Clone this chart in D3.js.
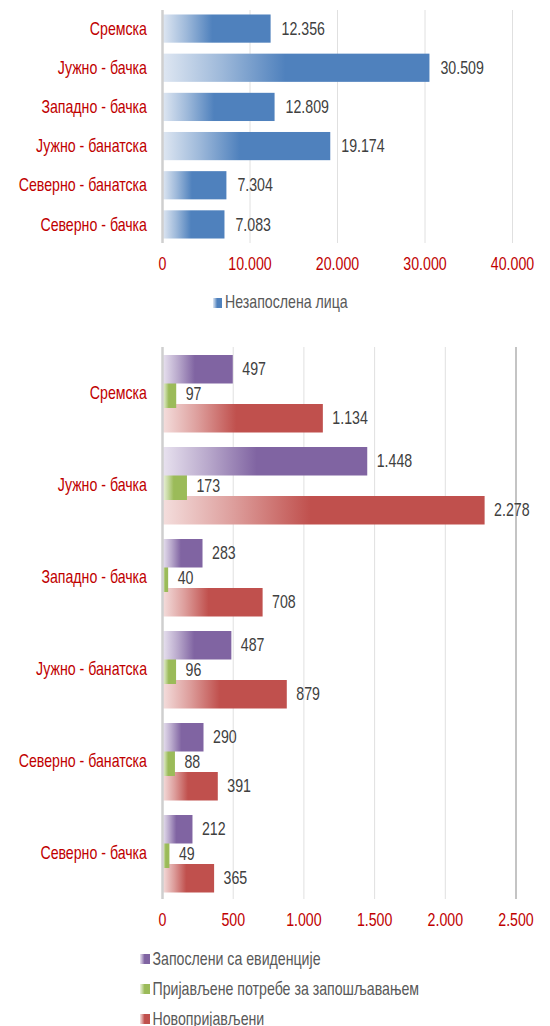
<!DOCTYPE html>
<html>
<head>
<meta charset="utf-8">
<script src="https://cdn.jsdelivr.net/npm/d3@7"></script>
<style>
  body { margin: 0; background: #fff; }
  svg text { font-family: "Liberation Sans Narrow", "Arial Narrow", "Liberation Sans", Arial, sans-serif; }
</style>
</head>
<body>
<div id="chart"></div>
<script>
const regions = ['Сремска', 'Јужно - бачка', 'Западно - бачка', 'Јужно - банатска', 'Северно - банатска', 'Северно - бачка'];
const unemployed = [12356, 30509, 12809, 19174, 7304, 7083];
const employedFromRegistry = [497, 1448, 283, 487, 290, 212];
const reportedNeeds = [97, 173, 40, 96, 88, 49];
const newlyRegistered = [1134, 2278, 708, 879, 391, 365];
const topTicks = [0, 10000, 20000, 30000, 40000];
const bottomTicks = [0, 500, 1000, 1500, 2000, 2500];

const topSeriesName = 'Незапослена лица';
const bottomSeries = [
  { key: 'emp', name: 'Запослени са евиденције', values: employedFromRegistry, color: '#8064A2', light: '#e8e2ef' },
  { key: 'need', name: 'Пријављене потребе за запошљавањем', values: reportedNeeds, color: '#9BBB59', light: '#edf3e0' },
  { key: 'new', name: 'Новопријављени', values: newlyRegistered, color: '#C0504D', light: '#f4dedd' }
];

const fmt = d3.formatLocale({ decimal: ',', thousands: '.', grouping: [3] }).format(',d');
const width = 550, height = 1026;
const catColor = '#C00000';
const labelColor = '#404040';
const fontSize = 17.5;
const squeeze = 0.81; // the original uses a narrow face

const svg = d3.select('#chart').append('svg')
  .attr('width', width)
  .attr('height', height);

// position a text selection and squeeze it horizontally
function place(sel, fx, fy) {
  sel.attr('transform', (d, i) => `translate(${fx(d, i)},${fy(d, i)}) scale(${squeeze},1)`)
    .attr('dy', '0.35em')
    .attr('font-size', fontSize);
  return sel;
}

const defs = svg.append('defs');
function gradient(id, light, color) {
  const g = defs.append('linearGradient').attr('id', id)
    .attr('x1', 0).attr('x2', 1).attr('y1', 0).attr('y2', 0);
  g.append('stop').attr('offset', 0).attr('stop-color', light);
  g.append('stop').attr('offset', 0.22).attr('stop-color', d3.interpolateRgb(light, color)(0.45));
  g.append('stop').attr('offset', 0.46).attr('stop-color', color);
  g.append('stop').attr('offset', 1).attr('stop-color', color);
}
gradient('g-blue', '#dfe7f2', '#4F81BD');
bottomSeries.forEach(s => gradient('g-' + s.key, s.light, s.color));

// ---------- top chart ----------
const x1 = d3.scaleLinear().domain([0, 40000]).range([162.5, 512.5]);
const y1 = d3.scaleBand().domain(regions).range([9, 244]).paddingInner(0.28).paddingOuter(0.14);

const upper = svg.append('g');
upper.append('g').selectAll('line')
  .data(topTicks.slice(1))
  .join('line')
    .attr('x1', d => x1(d)).attr('x2', d => x1(d))
    .attr('y1', 10).attr('y2', 243)
    .attr('stroke', '#e0e0e0').attr('stroke-width', 1);

upper.append('g').selectAll('rect')
  .data(regions)
  .join('rect')
    .attr('x', x1(0))
    .attr('y', d => y1(d))
    .attr('width', (d, i) => x1(unemployed[i]) - x1(0))
    .attr('height', y1.bandwidth())
    .attr('fill', 'url(#g-blue)');

upper.append('line')
  .attr('x1', x1(0)).attr('x2', x1(0))
  .attr('y1', 10).attr('y2', 243)
  .attr('stroke', '#cfcfcf').attr('stroke-width', 2.5);

place(upper.append('g').selectAll('text').data(regions).join('text'),
    (d, i) => x1(unemployed[i]) + 11, d => y1(d) + y1.bandwidth() / 2)
  .attr('fill', labelColor)
  .text((d, i) => fmt(unemployed[i]));

place(upper.append('g').selectAll('text').data(regions).join('text'),
    () => 147, d => y1(d) + y1.bandwidth() / 2)
  .attr('text-anchor', 'end')
  .attr('fill', catColor)
  .text(d => d);

place(upper.append('g').selectAll('text').data(topTicks).join('text'),
    d => x1(d), () => 264)
  .attr('text-anchor', 'middle')
  .attr('fill', catColor)
  .text(d => fmt(d));

upper.append('rect').attr('x', 213).attr('y', 298).attr('width', 9).attr('height', 10).attr('fill', 'url(#g-blue)');
place(upper.append('text').datum(topSeriesName), () => 225, () => 302)
  .attr('fill', '#595959').text(d => d);

// ---------- bottom chart ----------
const x2 = d3.scaleLinear().domain([0, 2500]).range([162.5, 516]);
const y2 = d3.scaleBand().domain(regions).range([347, 899]);
const yIn = d3.scaleBand().domain(bottomSeries.map(s => s.key)).range([8, 81.5]);
const barH = yIn.bandwidth() + 4;

const lower = svg.append('g');
lower.append('g').selectAll('line')
  .data(bottomTicks.slice(1, -1))
  .join('line')
    .attr('x1', d => x2(d)).attr('x2', d => x2(d))
    .attr('y1', 347).attr('y2', 899)
    .attr('stroke', '#e0e0e0').attr('stroke-width', 1);

lower.append('line')
  .attr('x1', x2(2500)).attr('x2', x2(2500))
  .attr('y1', 347).attr('y2', 899)
  .attr('stroke', '#c4c4c4').attr('stroke-width', 2);

// draw in reverse so earlier series sit on top
const groups = lower.append('g').selectAll('g')
  .data(regions)
  .join('g')
    .attr('transform', d => `translate(0,${y2(d)})`);

groups.selectAll('rect')
  .data((d, i) => bottomSeries.map(s => ({ s, v: s.values[i] })).reverse())
  .join('rect')
    .attr('x', x2(0))
    .attr('y', d => yIn(d.s.key))
    .attr('width', d => x2(d.v) - x2(0))
    .attr('height', barH)
    .attr('fill', d => `url(#g-${d.s.key})`);

place(groups.selectAll('text')
    .data((d, i) => bottomSeries.map(s => ({ s, v: s.values[i] })))
    .join('text'),
    d => x2(d.v) + 9.5, d => yIn(d.s.key) + yIn.bandwidth() / 2 + 2)
  .attr('fill', labelColor)
  .text(d => fmt(d.v));

lower.append('line')
  .attr('x1', x2(0)).attr('x2', x2(0))
  .attr('y1', 347).attr('y2', 899)
  .attr('stroke', '#cfcfcf').attr('stroke-width', 2.5);

place(lower.append('g').selectAll('text').data(regions).join('text'),
    () => 147, d => y2(d) + y2.bandwidth() / 2)
  .attr('text-anchor', 'end')
  .attr('fill', catColor)
  .text(d => d);

place(lower.append('g').selectAll('text').data(bottomTicks).join('text'),
    d => x2(d), () => 920)
  .attr('text-anchor', 'middle')
  .attr('fill', catColor)
  .text(d => fmt(d));

const legend = lower.append('g').selectAll('g')
  .data(bottomSeries)
  .join('g')
    .attr('transform', (d, i) => `translate(140,${959 + i * 30})`);
legend.append('rect').attr('x', 0).attr('y', -5).attr('width', 10).attr('height', 10)
  .attr('fill', d => `url(#g-${d.key})`);
place(legend.append('text'), () => 12.5, () => 0)
  .attr('fill', '#595959').text(d => d.name);
</script>
</body>
</html>
